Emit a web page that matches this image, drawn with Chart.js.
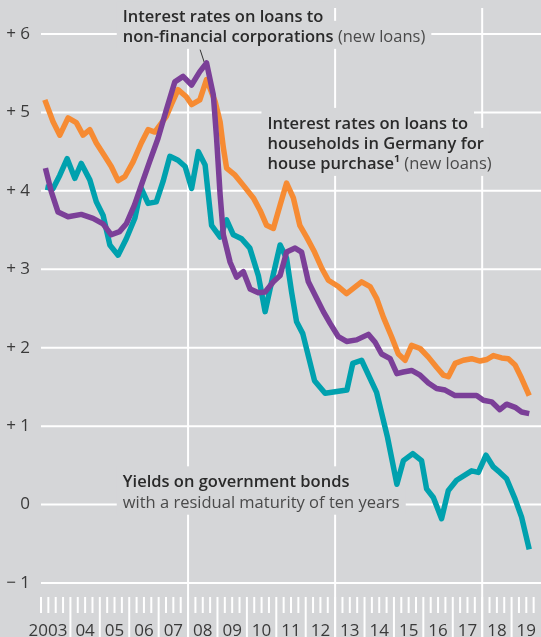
<!DOCTYPE html>
<html>
<head>
<meta charset="utf-8">
<script src="https://cdn.jsdelivr.net/npm/chart.js@4.4.0/dist/chart.umd.min.js"></script>
<style>
  html, body { margin: 0; padding: 0; background: #d5d6d8; }
  #wrap { width: 541px; height: 637px; }
  canvas { display: block; }
</style>
</head>
<body>
<div id="wrap"><canvas id="chart"></canvas></div>
<script>
// years on the axis and y tick labels
const years = [2003, 2004, 2005, 2006, 2007, 2008, 2009, 2010, 2011, 2012, 2013, 2014, 2015, 2016, 2017, 2018, 2019];
const yearLabels = ['2003', '04', '05', '06', '07', '08', '09', '10', '11', '12', '13', '14', '15', '16', '17', '18', '19'];
const yTicks = [-1, 0, 1, 2, 3, 4, 5, 6];
const yTickLabels = ['\u2212 1', '0', '+ 1', '+ 2', '+ 3', '+ 4', '+ 5', '+ 6'];
const gridYears = [2008, 2013, 2018];

// households, house purchase (orange)
const hhDates = [2003.13, 2003.41, 2003.64, 2003.92, 2004.2, 2004.43, 2004.66, 2004.88, 2005.17, 2005.39, 2005.62, 2005.85, 2006.13, 2006.41, 2006.64, 2006.87, 2007.26, 2007.43, 2007.66, 2007.94, 2008.12, 2008.4, 2008.63, 2008.92, 2009.09, 2009.2, 2009.31, 2009.6, 2009.88, 2010.22, 2010.45, 2010.67, 2010.9, 2011.13, 2011.35, 2011.58, 2011.8, 2012.03, 2012.3, 2012.55, 2012.77, 2013.11, 2013.39, 2013.9, 2014.19, 2014.41, 2014.64, 2014.92, 2015.15, 2015.38, 2015.6, 2015.89, 2016.17, 2016.45, 2016.68, 2016.85, 2017.08, 2017.36, 2017.64, 2017.93, 2018.16, 2018.38, 2018.66, 2018.89, 2019.12, 2019.34, 2019.6];
const hhRates = [5.16, 4.88, 4.71, 4.93, 4.87, 4.71, 4.78, 4.61, 4.44, 4.31, 4.13, 4.18, 4.37, 4.61, 4.78, 4.75, 4.95, 5.1, 5.29, 5.2, 5.1, 5.16, 5.42, 5.14, 4.88, 4.55, 4.29, 4.2, 4.07, 3.91, 3.75, 3.56, 3.52, 3.82, 4.1, 3.91, 3.56, 3.41, 3.22, 3.01, 2.86, 2.78, 2.69, 2.84, 2.78, 2.63, 2.39, 2.14, 1.92, 1.84, 2.03, 1.99, 1.88, 1.75, 1.65, 1.63, 1.80, 1.84, 1.86, 1.83, 1.85, 1.90, 1.87, 1.86, 1.78, 1.61, 1.39];

// non-financial corporations (purple)
const nfcDates = [2003.15, 2003.35, 2003.58, 2003.92, 2004.37, 2004.77, 2005.11, 2005.39, 2005.67, 2005.9, 2006.18, 2006.41, 2006.69, 2006.98, 2007.26, 2007.55, 2007.83, 2008.12, 2008.4, 2008.63, 2008.86, 2008.97, 2009.09, 2009.2, 2009.43, 2009.65, 2009.88, 2010.11, 2010.39, 2010.62, 2010.9, 2011.13, 2011.35, 2011.64, 2011.86, 2012.09, 2012.32, 2012.6, 2012.83, 2013.11, 2013.39, 2013.73, 2014.13, 2014.36, 2014.58, 2014.87, 2015.1, 2015.32, 2015.6, 2015.89, 2016.17, 2016.45, 2016.74, 2017.08, 2017.36, 2017.81, 2018.04, 2018.32, 2018.6, 2018.83, 2019.12, 2019.34, 2019.6];
const nfcRates = [4.29, 3.99, 3.73, 3.67, 3.70, 3.65, 3.58, 3.44, 3.48, 3.58, 3.82, 4.07, 4.37, 4.67, 5.03, 5.39, 5.46, 5.35, 5.52, 5.63, 5.22, 4.67, 3.95, 3.44, 3.09, 2.90, 2.97, 2.75, 2.70, 2.71, 2.84, 2.92, 3.22, 3.27, 3.22, 2.84, 2.67, 2.46, 2.31, 2.14, 2.08, 2.10, 2.17, 2.07, 1.92, 1.86, 1.67, 1.69, 1.71, 1.65, 1.55, 1.48, 1.46, 1.39, 1.39, 1.39, 1.33, 1.31, 1.21, 1.28, 1.24, 1.18, 1.16];

// ten-year government bond yields (teal)
const bondDates = [2003.15, 2003.41, 2003.64, 2003.89, 2004.15, 2004.37, 2004.66, 2004.88, 2005.11, 2005.34, 2005.62, 2005.9, 2006.19, 2006.41, 2006.64, 2006.92, 2007.15, 2007.38, 2007.66, 2007.9, 2008.12, 2008.35, 2008.58, 2008.8, 2009.09, 2009.31, 2009.54, 2009.82, 2010.1, 2010.39, 2010.62, 2010.84, 2011.13, 2011.35, 2011.52, 2011.69, 2011.9, 2012.3, 2012.66, 2013.4, 2013.6, 2013.9, 2014.41, 2014.78, 2015.1, 2015.32, 2015.64, 2015.94, 2016.11, 2016.34, 2016.62, 2016.85, 2017.13, 2017.64, 2017.87, 2018.13, 2018.38, 2018.6, 2018.83, 2019.12, 2019.34, 2019.6];
const bondYields = [4.05, 4.03, 4.20, 4.41, 4.16, 4.35, 4.14, 3.86, 3.69, 3.31, 3.18, 3.39, 3.65, 4.03, 3.84, 3.86, 4.12, 4.44, 4.39, 4.31, 4.03, 4.50, 4.33, 3.56, 3.41, 3.63, 3.44, 3.39, 3.27, 2.92, 2.46, 2.84, 3.31, 3.14, 2.71, 2.33, 2.18, 1.58, 1.42, 1.46, 1.80, 1.84, 1.43, 0.86, 0.26, 0.56, 0.65, 0.56, 0.20, 0.09, -0.18, 0.18, 0.31, 0.43, 0.41, 0.63, 0.48, 0.41, 0.33, 0.07, -0.16, -0.57];

const BG = '#d5d6d8';
const FONT = '"Open Sans", "Noto Sans", sans-serif';
const NOTE_SIZE = '16.5px ';

function pts(xs, ys) { return xs.map((x, i) => ({ x: x, y: ys[i] })); }

// text labels placed in data coordinates (x year, y value of baseline)
const notes = [
  { x: 2005.78, y: 6.15, parts: [['Interest rates on loans to', true]] },
  { x: 2005.78, y: 5.9, parts: [['non-financial corporations', true], [' (new loans)', false]] },
  { x: 2010.7, y: 4.79, parts: [['Interest rates on loans to', true]] },
  { x: 2010.7, y: 4.535, parts: [['households in Germany for', true]] },
  { x: 2010.7, y: 4.28, parts: [['house purchase\u00b9', true], [' (new loans)', false]] },
  { x: 2005.78, y: 0.22, parts: [['Yields on government bonds', true]] },
  { x: 2005.78, y: -0.04, parts: [['with a residual maturity of ten years', false]] }
];

const frame = {
  id: 'frame',
  beforeDraw(chart) {
    const c = chart.ctx;
    c.save();
    c.fillStyle = BG;
    c.fillRect(0, 0, chart.width, chart.height);
    c.restore();
  },
  beforeDatasetsDraw(chart) {
    const c = chart.ctx, xs = chart.scales.x, ys = chart.scales.y;
    const a = chart.chartArea;
    c.save();
    c.strokeStyle = '#ffffff';
    c.lineWidth = 2;
    // horizontal grid
    yTicks.forEach(v => {
      const y = ys.getPixelForValue(v);
      c.beginPath(); c.moveTo(a.left, y); c.lineTo(a.right, y); c.stroke();
    });
    // vertical grid
    gridYears.forEach(yr => {
      const x = xs.getPixelForValue(yr);
      c.beginPath(); c.moveTo(x, 8); c.lineTo(x, chart.height); c.stroke();
    });
    // quarter ticks
    for (let q = 0; q < 68; q++) {
      const x = xs.getPixelForValue(2003 + q / 4);
      const long = q % 4 === 0 && q > 0;
      c.beginPath(); c.moveTo(x, 597); c.lineTo(x, long ? chart.height : 613); c.stroke();
    }
    // y labels
    c.fillStyle = '#3a3a3a';
    c.font = '17px ' + FONT;
    c.textAlign = 'right';
    c.textBaseline = 'middle';
    yTicks.forEach((v, i) => c.fillText(yTickLabels[i], 30, ys.getPixelForValue(v)));
    // year labels
    c.textBaseline = 'alphabetic';
    years.forEach((yr, i) => {
      if (i === 0) {
        c.textAlign = 'right';
        c.fillText(yearLabels[i], xs.getPixelForValue(yr + 1) - 3, 636);
      } else {
        c.textAlign = 'center';
        c.fillText(yearLabels[i], xs.getPixelForValue(yr + 0.5), 636);
      }
    });
    // notes with background boxes
    c.textAlign = 'left';
    notes.forEach(n => {
      const x0 = xs.getPixelForValue(n.x), yb = ys.getPixelForValue(n.y);
      let w = 0;
      n.parts.forEach(p => {
        c.font = (p[1] ? '600 ' : '400 ') + NOTE_SIZE + FONT;
        w += c.measureText(p[0]).width;
      });
      c.fillStyle = BG;
      c.fillRect(x0 - 6, yb - 21, w + 12, 28);
    });
    notes.forEach(n => {
      let x = xs.getPixelForValue(n.x);
      const yb = ys.getPixelForValue(n.y);
      n.parts.forEach(p => {
        c.font = (p[1] ? '600 ' : '400 ') + NOTE_SIZE + FONT;
        c.fillStyle = p[1] ? '#2a2a2a' : '#4a4a4a';
        c.fillText(p[0], x, yb);
        x += c.measureText(p[0]).width;
      });
    });
    // leader line to the corporate peak
    c.strokeStyle = '#333333';
    c.lineWidth = 1;
    c.beginPath();
    c.moveTo(xs.getPixelForValue(2008.41), ys.getPixelForValue(5.8));
    c.lineTo(xs.getPixelForValue(2008.55), ys.getPixelForValue(5.64));
    c.stroke();
    c.restore();
  }
};

const line = (data, color) => ({
  data: data,
  borderColor: color,
  borderWidth: 5.5,
  pointRadius: 0,
  tension: 0,
  fill: false,
  borderJoinStyle: 'round',
  borderCapStyle: 'butt'
});

new Chart(document.getElementById('chart'), {
  type: 'line',
  data: {
    datasets: [
      line(pts(nfcDates, nfcRates), '#7b3f98'),
      line(pts(bondDates, bondYields), '#00a1ae'),
      line(pts(hhDates, hhRates), '#f68b33')
    ]
  },
  options: {
    responsive: true,
    maintainAspectRatio: false,
    animation: false,
    layout: { padding: { left: 41, right: 0, top: 34, bottom: 54 } },
    plugins: { legend: { display: false }, tooltip: { enabled: false } },
    scales: {
      x: { type: 'linear', min: 2003, max: 2020, display: false },
      y: { min: -1, max: 6, display: false }
    }
  },
  plugins: [frame]
});
</script>
</body>
</html>
